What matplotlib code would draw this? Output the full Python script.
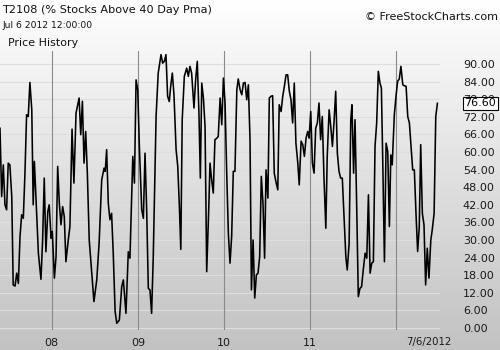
import numpy as np
import pandas as pd
import matplotlib.pyplot as plt
import matplotlib.dates as mdates
import matplotlib.transforms as mtransforms
from matplotlib.colors import LinearSegmentedColormap

# ===== Data: T2108 weekly closes, days counted from the first bar =====
start_date = '2007-05-26'
day_offsets = [
    0, 7, 14, 21, 28, 35, 42, 50, 56, 64, 71, 78, 85, 92, 99, 106, 113, 120, 127, 135,
    141, 146, 156, 163, 174, 181, 188, 195, 203, 209, 217, 222, 231, 238, 245, 252, 259, 266, 273, 280,
    290, 297, 306, 314, 323, 336, 343, 350, 357, 364, 371, 379, 390, 399, 411, 421, 432, 442, 447, 453,
    460, 467, 474, 481, 489, 496, 507, 517, 524, 535, 545, 552,
    564, 571, 578, 585, 592, 602, 609, 616, 623, 630, 637, 644, 651, 663, 672, 684, 691, 698, 705, 712,
    719, 725, 732, 739, 748, 755, 762, 768, 774, 783, 793, 800, 807, 814, 824, 831, 838, 845, 851, 857,
    864, 871, 878, 887, 892, 899, 906, 913, 921, 927, 935, 942, 949, 956, 963, 970, 977, 984, 991, 998,
    1006, 1012, 1020, 1027, 1034, 1041, 1048, 1055, 1062,
    1068, 1075, 1082, 1089, 1096, 1103, 1110, 1117, 1124, 1130, 1138, 1144, 1151, 1158, 1165, 1172,
    1180, 1186, 1194, 1201, 1208, 1215, 1222, 1229, 1236, 1243, 1250, 1257, 1265, 1271, 1279, 1286,
    1293, 1300, 1307, 1313, 1320, 1327, 1334, 1341, 1348, 1355, 1362, 1369, 1376, 1384, 1390, 1398,
    1405, 1412, 1419, 1426, 1433, 1440, 1447, 1454, 1461, 1469, 1475, 1483,
    1490, 1495, 1502, 1508, 1515, 1522, 1529, 1536, 1543, 1551, 1558, 1565, 1572, 1579, 1586, 1593,
    1600, 1607, 1614, 1620, 1626, 1633, 1640, 1647, 1654, 1660, 1666, 1675, 1682, 1689, 1696, 1703,
    1711, 1717, 1725, 1732, 1739, 1746, 1753, 1760, 1767, 1774, 1781, 1787, 1794, 1801, 1808, 1815,
    1822, 1830, 1836, 1844, 1851, 1858,
]
t2108 = [
    68.1, 44.8, 55.6, 42.0, 40.3, 56.2, 55.6, 44.8, 14.7, 14.3, 18.7, 15.2, 31.2, 38.6, 37.4, 52.8, 72.7, 72.1, 83.7, 74.4,
    42.0, 56.8, 38.0, 25.5, 16.6, 30.0, 51.1, 26.0, 39.7, 42.0, 30.6, 32.9, 17.0, 24.3, 55.1, 42.5, 35.2, 41.4, 38.0, 22.6,
    30.0, 34.6, 67.8, 49.4, 73.3, 78.4, 65.9, 77.3, 56.2, 67.0, 52.8, 30.0, 18.7, 9.0, 16.4, 28.9, 50.5, 54.5, 53.4, 60.8,
    42.5, 36.9, 39.1, 25.5, 5.6, 1.6, 2.7, 14.1, 16.4, 5.0, 26.0, 23.8,
    58.5, 49.4, 84.6, 81.2, 61.9, 40.3, 37.4, 59.6, 40.3, 13.5, 13.0, 5.0, 24.3, 72.1, 86.9, 93.2, 90.3, 90.9, 93.2, 79.0,
    77.2, 82.4, 86.9, 79.5, 60.8, 55.1, 41.4, 26.8, 71.0, 85.8, 88.6, 85.8, 89.2, 86.9, 75.0, 84.6, 90.9, 73.3, 51.1, 83.5,
    78.4, 68.7, 19.2, 41.4, 56.2, 50.5, 46.0, 64.2, 64.7, 65.3, 78.4, 69.3, 85.2, 76.7, 52.8, 32.3, 22.1, 31.2, 53.4, 53.4,
    81.2, 84.9, 81.2, 79.5, 83.5, 83.7, 77.8, 82.9, 64.2,
    13.0, 30.0, 10.2, 18.1, 18.7, 24.3, 51.7, 42.5, 23.8, 53.9, 44.3, 78.4, 79.0, 79.2, 52.8, 49.9,
    47.1, 76.1, 73.8, 79.0, 82.4, 86.3, 86.3, 80.7, 77.8, 69.9, 83.5, 63.0, 56.2, 48.8, 63.7, 62.5,
    58.5, 64.7, 67.0, 64.7, 73.8, 56.2, 52.8, 68.1, 69.9, 76.7, 64.2, 72.1, 51.7, 34.0, 58.5, 74.4,
    68.7, 61.9, 70.4, 80.7, 59.6, 53.4, 51.1, 51.1, 38.6, 24.3, 19.8, 28.9,
    71.0, 76.1, 52.8, 71.0, 42.0, 10.7, 13.5, 14.1, 19.8, 25.5, 23.8, 45.4, 18.7, 22.1, 22.6, 61.9,
    69.9, 87.5, 83.5, 81.8, 56.2, 22.6, 63.0, 60.2, 34.6, 59.0, 55.6, 72.7, 79.0, 84.1, 84.9, 89.2,
    82.9, 82.6, 82.4, 72.1, 69.9, 61.9, 53.9, 53.9, 39.1, 26.1, 34.6, 62.5, 39.1, 35.2, 14.7, 27.2,
    17.0, 30.0, 33.4, 39.1, 72.1, 76.6,
]

year_starts = ['2008-01-01', '2009-01-01', '2010-01-01', '2011-01-01', '2012-01-01']
year_labels = ['08', '09', '10', '11', '']
y_ticks = np.arange(0, 91, 6)
last_label = '7/6/2012'


def main():
    dates = pd.Timestamp(start_date) + pd.to_timedelta(day_offsets, unit='D')
    x = mdates.date2num(dates.to_pydatetime())

    fig = plt.figure(figsize=(5, 3.5), dpi=100)

    # ===== Background gradient (white to gray) =====
    bg = fig.add_axes([0, 0, 1, 1], zorder=0)
    cmap = LinearSegmentedColormap.from_list('fsc', ['#ffffff', '#c2c2c2'])
    bg.imshow(np.linspace(0, 1, 256).reshape(-1, 1), aspect='auto', cmap=cmap,
              extent=[0, 1, 0, 1], origin='upper')
    bg.axis('off')

    # ===== Price panel =====
    ax = fig.add_axes([0, 20 / 350, 440 / 500, 279 / 350], zorder=1)
    ax.patch.set_alpha(0)
    for sp in ax.spines.values():
        sp.set_visible(False)

    ax.plot(x, t2108, color='black', linewidth=1.15, zorder=3)

    ax.set_ylim(-0.68, 94.43)
    ax.set_xlim(x[0], x[0] + 1869)

    ax.set_yticks(y_ticks)
    ax.set_yticklabels([f'{v:.2f}' for v in y_ticks])
    ax.yaxis.tick_right()
    ax.tick_params(axis='y', length=0, pad=16.5, labelsize=8, labelcolor='#1a1a1a')
    ax.grid(axis='y', color='#dedede', linewidth=0.8)

    year_x = mdates.date2num(pd.to_datetime(year_starts).to_pydatetime())
    ax.set_xticks(year_x)
    ax.set_xticklabels(year_labels)
    ax.tick_params(axis='x', length=0, pad=6, labelsize=8, labelcolor='#1a1a1a')
    for xv in year_x:
        ax.axvline(xv, color='#8a8a8a', linewidth=0.8, zorder=2)

    # Last bar date under the axis and the current value box (covers the 72.00 label)
    ax.annotate(last_label, xy=(x[-1], 0), xycoords=ax.get_xaxis_transform(),
                xytext=(-6, -9), textcoords='offset points', ha='center', va='center',
                fontsize=7.3, color='#1a1a1a', annotation_clip=False)
    trans = mtransforms.blended_transform_factory(ax.transAxes, ax.transData)
    ax.annotate(f'{t2108[-1]:.2f}', xy=(1, t2108[-1]), xycoords=trans,
                xytext=(17.5, 0), textcoords='offset points', ha='left', va='center',
                fontsize=8, color='black', annotation_clip=False, zorder=5,
                bbox=dict(boxstyle='square,pad=0.15', fc='white', ec='black', lw=0.8))

    # ===== Header texts =====
    fig.text(2 / 500, 1 - 10 / 350, 'T2108 (% Stocks Above 40 Day Pma)', fontsize=8.1,
             va='center', ha='left', color='#111111')
    fig.text(2 / 500, 1 - 25 / 350, 'Jul 6 2012 12:00:00', fontsize=6.6,
             va='center', ha='left', color='#111111')
    fig.text(8 / 500, 1 - 43 / 350, 'Price History', fontsize=7.9,
             va='center', ha='left', color='#111111')
    fig.text(498 / 500, 1 - 17 / 350, '© FreeStockCharts.com', fontsize=8.0,
             va='center', ha='right', color='#111111')

    plt.savefig('out.png', dpi=100)


if __name__ == "__main__":
    main()
